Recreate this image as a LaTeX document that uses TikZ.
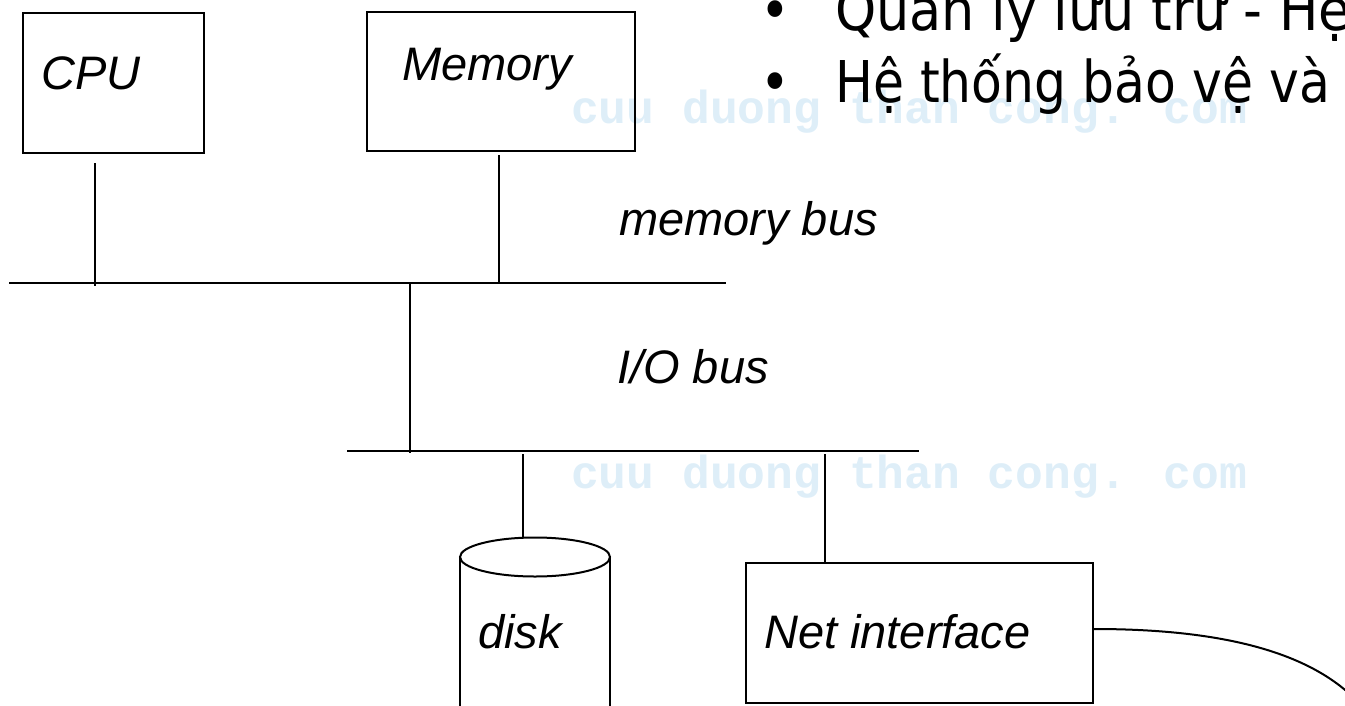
\documentclass[tikz,border=0pt]{standalone}
\usepackage{fontspec}
\usepackage{graphicx}
\newfontfamily\lsans{Liberation Sans}
\newfontfamily\dvs{DejaVu Sans}
\newfontfamily\lmono{Liberation Mono}
\definecolor{wm}{RGB}{222,238,248}
\begin{document}
\begin{tikzpicture}[x=1pt,y=-1pt,
  box/.style={draw,line width=2.2pt,inner sep=0pt,rectangle},
  lbl/.style={font=\lsans\itshape\fontsize{47}{56}\selectfont,inner sep=0pt,anchor=base west},
  tr/.style={font=\dvs\fontsize{57.6}{66}\selectfont,inner sep=0pt,anchor=base west},
  trb/.style={font=\dvs\fontsize{57.6}{66}\selectfont,inner sep=0pt,anchor=base},
  wmk/.style={font=\lmono\bfseries\fontsize{46.3}{56}\selectfont,text=wm,inner sep=0pt,anchor=base west},
  bus/.style={line width=2.6pt},
  wire/.style={line width=2pt}]
\useasboundingbox (0,0) rectangle (1345,705);
\clip (0,0) rectangle (1345,705);
% watermark
\node[wmk] (w1) at (571,123) {cuu duong than cong. com};
\node[wmk] (w2) at (571,488) {cuu duong than cong. com};
% top-right text
\node[trb] (b1) at (775,30) {\scalebox{0.875}[1]{•}};
\node[tr] (t1) at (835,30) {\scalebox{0.91}[1]{Quản lý lưu trữ - Hệ}};
\node[trb] (b2) at (775,102) {\scalebox{0.875}[1]{•}};
\node[tr] (t2) at (835,102) {\scalebox{0.875}[1]{Hệ thống bảo vệ và}};
% boxes
\node[box,minimum width=181pt,minimum height=140pt] (cpu) at (113.5,83) {};
\node[lbl] (cpul) at (41,89) {CPU};
\node[box,minimum width=268pt,minimum height=139pt] (mem) at (501,81.5) {};
\node[lbl] (meml) at (402,80) {Memory};
\node[box,minimum width=347pt,minimum height=140pt] (net) at (919.5,633) {};
\node[lbl] (netl) at (764,648) {Net interface};
% bus labels
\node[lbl] (mbl) at (619,235) {memory bus};
\node[lbl] (iobl) at (617,383) {I/O bus};
% buses
\coordinate (mbL) at (9,283);
\coordinate (mbR) at (726,283);
\coordinate (ioL) at (347,451);
\coordinate (ioR) at (919,451);
\draw[bus] (mbL) -- (mbR);
\draw[bus] (ioL) -- (ioR);
% taps
\coordinate (cpuTap) at (95,286);
\coordinate (memTap) at (499,283);
\coordinate (bridgeTop) at (410,283);
\coordinate (bridgeBot) at (410,453);
\coordinate (diskTap) at (523,454);
\coordinate (netTap) at (825,454);
\draw[wire] ([yshift=-9pt]cpu.south -| cpuTap) -- (cpuTap);
\draw[wire] ([yshift=-3pt]mem.south -| memTap) -- (memTap);
\draw[wire] (bridgeTop) -- (bridgeBot);
% disk
\coordinate (diskTop) at (523,538);
\draw[wire] (diskTap) -- (diskTop);
\draw[wire] (535,557) ellipse [x radius=75, y radius=19.5];
\draw[wire] (460,557) -- (460,715);
\draw[wire] (610,557) -- (610,715);
\node[lbl] (diskl) at (478,648) {disk};
% net
\draw[wire] (netTap) -- (net.north -| netTap);
\coordinate (cableEnd) at (1365,710);
\draw[wire] ([yshift=4pt]net.east) .. controls (1230,629) and (1320,655) .. (cableEnd);
\end{tikzpicture}
\end{document}
